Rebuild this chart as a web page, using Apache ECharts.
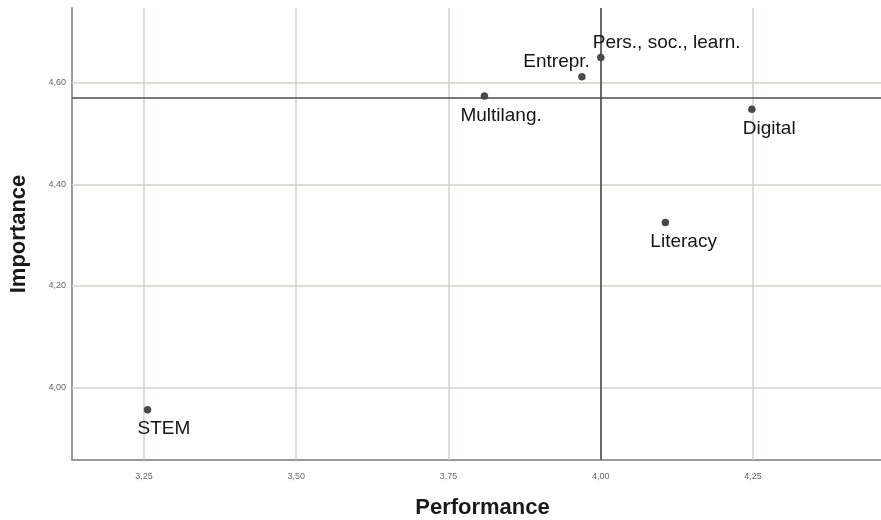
<!DOCTYPE html>
<html><head><meta charset="utf-8">
<script src="https://cdn.jsdelivr.net/npm/echarts@6/dist/echarts.min.js"></script>
<style>html,body{margin:0;padding:0;background:#fff}#c{width:881px;height:520px}</style>
</head><body><div id="c"></div>
<script>
const names = ['Pers., soc., learn.', 'Entrepr.', 'Multilang.', 'Digital', 'Literacy', 'STEM'];
const performance = [4.000, 3.969, 3.809, 4.248, 4.106, 3.256];
const importance = [4.650, 4.612, 4.574, 4.548, 4.325, 3.956];
const xTicks = [3.25, 3.50, 3.75, 4.00, 4.25];
const yTicks = [4.00, 4.20, 4.40, 4.60];
const meanPerformance = 4.00;
const meanImportance = 4.5725;

const labelStyle = [
  {align: 'left', offset: [-8, -15]},
  {align: 'right', offset: [8, -15]},
  {align: 'left', offset: [-24, 20]},
  {align: 'left', offset: [-9, 20]},
  {align: 'left', offset: [-15, 19]},
  {align: 'left', offset: [-10, 19]}
];
const fmt = v => v.toFixed(2).replace('.', ',');
const gridColor = '#d6cfcc';
const chart = echarts.init(document.getElementById('c'), null, {renderer: 'canvas'});
const data = names.map((n, i) => ({
  name: n, value: [performance[i], importance[i]],
  label: {show: true, formatter: n, position: 'inside', verticalAlign: 'middle',
    align: labelStyle[i].align, offset: labelStyle[i].offset,
    color: '#151515', textBorderWidth: 0, fontFamily: 'Liberation Sans', fontSize: 19}
}));
chart.setOption({
  animation: false,
  grid: {left: 72, right: 0, top: 8, bottom: 60, containLabel: false, outerBoundsMode: 'none'},
  xAxis: {
    type: 'value', min: 3.132, max: 4.46,
    name: 'Performance', nameLocation: 'middle', nameGap: 37,
    nameTextStyle: {fontFamily: 'Liberation Sans', fontWeight: 'bold', fontSize: 22, color: '#1a1a1a', padding: [0, 0, 0, 12]},
    axisLine: {show: true, lineStyle: {color: '#9a9a9a', width: 2}},
    axisTick: {show: false, customValues: xTicks},
    axisLabel: {customValues: xTicks, formatter: fmt, fontSize: 9, color: '#666', margin: 12, fontFamily: 'Liberation Sans Narrow, Liberation Sans'},
    splitLine: {show: false}
  },
  yAxis: {
    type: 'value', min: 3.857, max: 4.7475,
    name: 'Importance', nameLocation: 'middle', nameGap: 42, nameRotate: 90,
    nameTextStyle: {fontFamily: 'Liberation Sans', fontWeight: 'bold', fontSize: 22, color: '#1a1a1a'},
    axisLine: {show: true, lineStyle: {color: '#9a9a9a', width: 2}},
    axisTick: {show: false, customValues: yTicks},
    axisLabel: {customValues: yTicks, formatter: fmt, fontSize: 9, color: '#666', margin: 6, fontFamily: 'Liberation Sans Narrow, Liberation Sans'},
    splitLine: {show: false}
  },
  series: [
    {
      type: 'line', data: [], silent: true,
      markLine: {
        silent: true, symbol: 'none', label: {show: false},
        lineStyle: {color: gridColor, width: 1.5, type: 'solid'},
        data: xTicks.map(v => ({xAxis: v})).concat(yTicks.map(v => ({yAxis: v})))
      }
    },
    {
      type: 'scatter', symbolSize: 7,
      itemStyle: {color: '#4a4a4a', borderColor: '#333', borderWidth: 0.5, opacity: 1},
      data: data,
      z: 5,
      markLine: {
        silent: true, symbol: 'none', label: {show: false},
        lineStyle: {color: '#4d4d4d', width: 1.6, type: 'solid'},
        data: [{xAxis: meanPerformance}, {yAxis: meanImportance}]
      }
    }
  ]
});
</script></body></html>
